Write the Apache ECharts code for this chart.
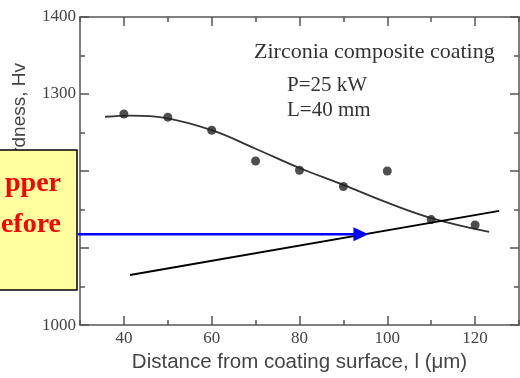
<!DOCTYPE html>
<html>
<head>
<meta charset="utf-8">
<script src="https://cdn.jsdelivr.net/npm/echarts@6/dist/echarts.min.js"></script>
<style>
  html, body { margin: 0; padding: 0; background: #fff; }
  #main { width: 520px; height: 378px; }
</style>
</head>
<body>
<div id="main"></div>
<script>
var myChart = echarts.init(document.getElementById('main'));

// measured points
var distance = [40, 50, 60, 70, 80, 90, 100, 110, 120];
var hardness = [1274, 1270, 1253, 1213, 1201, 1180, 1200, 1137, 1130];
// fitted curve
var fitX = [35.7, 41.7, 49.3, 60, 70, 80, 90, 100, 110, 123.2];
var fitY = [1270.5, 1272, 1269, 1253, 1229, 1204, 1182, 1159, 1139, 1121];
// straight black line
var lineX = [41.4, 125.5];
var lineY = [1065, 1148.3];
// blue arrow
var arrowX = [24.5, 94];
var arrowY = [1118, 1118];
// tick labels
var xMajor = [40, 60, 80, 100, 120];
var xMinor = [30, 50, 70, 90, 110, 130];

var axisColor = '#555';
var labelFont = { fontFamily: 'Liberation Serif', fontSize: 17, color: '#444' };

function pairs(xs, ys) {
    return xs.map(function (x, i) { return [x, ys[i]]; });
}

function xAxisOf(pos, ticks, len, showLine, showLabel) {
    return {
        type: 'value', position: pos, min: 30, max: 130,
        axisLine: { show: showLine, onZero: false, lineStyle: { color: axisColor, width: 1.5 } },
        axisTick: { show: true, inside: true, length: len, customValues: ticks,
                    lineStyle: { color: axisColor, width: 1.5 } },
        axisLabel: showLabel ? Object.assign({ customValues: xMajor, margin: 5 }, labelFont) : { show: false },
        splitLine: { show: false }
    };
}

function yAxisOf(pos, showLabel) {
    return {
        type: 'value', position: pos, min: 1000, max: 1400, interval: 100,
        axisLine: { show: true, onZero: false, lineStyle: { color: axisColor, width: 1.5 } },
        axisTick: { show: true, inside: true, length: 9, lineStyle: { color: axisColor, width: 1.5 } },
        minorTick: { show: true, splitNumber: 2, length: 5, lineStyle: { color: axisColor, width: 1.5 } },
        axisLabel: showLabel
            ? Object.assign({ margin: 4, formatter: function (v) { return String(v); } }, labelFont)
            : { show: false },
        splitLine: { show: false }
    };
}

var option = {
    animation: false,
    grid: { left: 80, right: 1, top: 17, bottom: 49 },
    xAxis: [
        Object.assign(xAxisOf('bottom', xMajor, 9, true, true), {
            name: 'Distance from coating surface, l (\u03bcm)',
            nameLocation: 'middle',
            nameGap: 24,
            nameTextStyle: { fontFamily: 'Liberation Sans', fontSize: 20.5, color: '#444' }
        }),
        xAxisOf('bottom', xMinor, 5, false, false),
        xAxisOf('top', xMajor, 9, true, false),
        xAxisOf('top', xMinor, 5, false, false)
    ],
    yAxis: [yAxisOf('left', true), yAxisOf('right', false)],
    series: [
        {
            type: 'line',
            data: pairs(fitX, fitY),
            smooth: 0.4,
            showSymbol: false,
            lineStyle: { color: '#333', width: 1.8 },
            z: 3
        },
        {
            type: 'scatter',
            data: pairs(distance, hardness),
            symbolSize: 9,
            itemStyle: { color: '#222' },
            z: 4
        },
        {
            type: 'line',
            data: pairs(lineX, lineY),
            showSymbol: false,
            lineStyle: { color: '#000', width: 2 },
            z: 5
        },
        {
            type: 'line',
            data: pairs(arrowX, arrowY).map(function (p, i) {
                return i === 1
                    ? { value: p, symbol: 'triangle', symbolSize: [14, 15], symbolRotate: -90 }
                    : { value: p, symbol: 'none' };
            }),
            showSymbol: true,
            showAllSymbol: true,
            clip: false,
            itemStyle: { color: '#0000ff' },
            lineStyle: { color: '#0000ff', width: 2.5 },
            z: 200
        }
    ],
    graphic: [
        {
            type: 'text', x: 20, y: 63, rotation: Math.PI / 2,
            style: { text: 'Hardness, Hv', font: '19px "Liberation Sans"', fill: '#444',
                     align: 'right', verticalAlign: 'middle' }
        },
        {
            type: 'text', x: 254, y: 41,
            style: { text: 'Zirconia composite coating', font: '22px "Liberation Serif"', fill: '#333',
                     verticalAlign: 'top' }
        },
        {
            type: 'text', x: 287, y: 75,
            style: { text: 'P=25 kW', font: '21px "Liberation Serif"', fill: '#333',
                     verticalAlign: 'top' }
        },
        {
            type: 'text', x: 287, y: 100,
            style: { text: 'L=40 mm', font: '21px "Liberation Serif"', fill: '#333',
                     verticalAlign: 'top' }
        },
        {
            type: 'rect', z: 100,
            shape: { x: -5, y: 150, width: 82, height: 140 },
            style: { fill: '#ffffa0', stroke: '#000', lineWidth: 1.5 }
        },
        {
            type: 'text', x: 61, y: 170, z: 101,
            style: { text: 'pper', font: 'bold 28px "Liberation Serif"', fill: '#ff0000',
                     align: 'right', verticalAlign: 'top' }
        },
        {
            type: 'text', x: 61, y: 211, z: 101,
            style: { text: 'efore', font: 'bold 28px "Liberation Serif"', fill: '#ff0000',
                     align: 'right', verticalAlign: 'top' }
        }
    ]
};
myChart.setOption(option);
</script>
</body>
</html>
